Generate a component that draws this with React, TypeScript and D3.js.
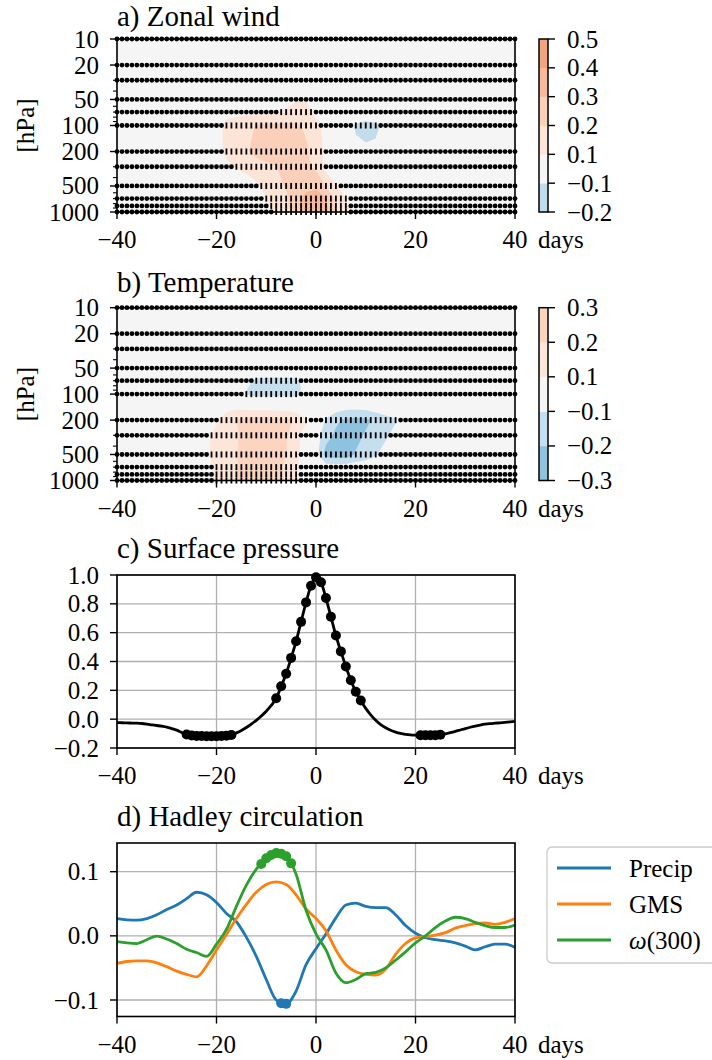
import React from 'react';
import * as d3 from 'd3';

const FONT = '"Liberation Serif", "DejaVu Serif", serif';
const X0 = 117;
const X1 = 515;

// ---------- shared axes ----------
const DAY_TICKS = [-40, -20, 0, 20, 40];
const LEVELS = [10, 20, 30, 50, 70, 100, 200, 300, 500, 700, 850, 1000];
const LOG_MAJOR = [10, 20, 50, 100, 200, 500, 1000];
const LOG_MINOR = [30, 40, 60, 70, 80, 90, 300, 400, 600, 700, 800, 900];
const GRID_DAYS = [-24, -22, -20, -18, -16, -14, -12, -10, -8, -6, -4, -2, 0, 2, 4, 6, 8, 10, 12, 14, 16, 18, 20];
const STIPPLE_DAYS = d3.range(-40, 41, 1);

// ---------- a) Zonal wind (rows = LEVELS, cols = GRID_DAYS) ----------
const WIND = [
  [0,0,0,0,0,0,0,0,0,0,0,0,0,0,0,0,0,0,0,0,0,0,0],
  [0,0,0,0,0,0,0,0,0,0,0,0,0,0,0,0,0,0,0,0,0,0,0],
  [0,0,0,0,0,0,0,0,0,0,0,0,0,0,0,0,0,0,0,0,0,0,0],
  [0,0,0,0,0,0,0,0,0.02,0.05,0.09,0.09,0.04,0,0,0,0,0,0,0,0,0,0],
  [0,0,0.03,0.06,0.07,0.08,0.08,0.08,0.085,0.12,0.15,0.14,0.07,0.02,0,0,0,0,0,0,0,0,0],
  [0,0.02,0.05,0.13,0.15,0.17,0.205,0.22,0.22,0.22,0.21,0.19,0.13,0.07,0.02,-0.02,-0.115,-0.15,-0.12,-0.07,-0.02,0,0],
  [0,0.02,0.05,0.13,0.16,0.19,0.23,0.25,0.26,0.25,0.23,0.21,0.17,0.07,0.02,0,-0.072,-0.073,-0.08,-0.02,0,0,0],
  [0,0,0.03,0.07,0.11,0.14,0.16,0.175,0.198,0.23,0.24,0.22,0.18,0.06,0.02,0,0,0,0,0,0,0,0],
  [0,0,0,0,0.01,0.03,0.08,0.13,0.17,0.21,0.24,0.27,0.28,0.195,0.105,0.03,0,0,0,0,0,0,0],
  [0,0,0,0,0,0.01,0.05,0.1,0.15,0.18,0.27,0.33,0.35,0.31,0.17,0.105,0.03,0,0,0,0,0,0],
  [0,0,0,0,0,0,0.04,0.08,0.13,0.18,0.26,0.35,0.37,0.32,0.19,0.11,0.04,0,0,0,0,0,0],
  [0,0,0,0,0,0,0.03,0.07,0.12,0.17,0.24,0.36,0.38,0.33,0.2,0.12,0.08,0.02,0,0,0,0,0],
];
const WIND_LEVELS = [-0.2, -0.1, 0.1, 0.2, 0.3, 0.4, 0.5];
const WIND_COLORS = ['#c3dcec', '#f5f5f5', '#fce4d7', '#fad0ba', '#f7b99b', '#f3a481'];

// ---------- b) Temperature ----------
const TEMP = [
  [0,0,0,0,0,0,0,0,0,0,0,0,0,0,0,0,0,0,0,0,0,0,0],
  [0,0,0,0,0,0,0,0,0,0,0,0,0,0,0,0,0,0,0,0,0,0,0],
  [0,0,0,0,0,0,0,0,0,0,0,0,0,0,0,0,0,0,0,0,0,0,0],
  [0,0,0,0,0,0,0,0,0,0,0,0,0,0,0,0,0,0,0,0,0,0,0],
  [0,0,0,0,-0.02,-0.07,-0.12,-0.13,-0.13,-0.13,-0.125,-0.06,-0.01,0,0,0,0,0,0,0,0,0,0],
  [0,0,0,-0.01,-0.05,-0.11,-0.13,-0.13,-0.13,-0.13,-0.13,-0.07,-0.02,0.05,0.09,0.09,0.09,0.09,0.09,0.09,0.05,0.02,0],
  [0,0.02,0.08,0.15,0.2,0.23,0.24,0.24,0.23,0.22,0.19,0.11,-0.02,-0.11,-0.18,-0.22,-0.23,-0.22,-0.18,-0.14,-0.11,-0.04,0],
  [0.01,0.07,0.14,0.18,0.19,0.23,0.25,0.25,0.24,0.21,0.14,0.05,-0.05,-0.16,-0.22,-0.24,-0.23,-0.19,-0.15,-0.12,-0.06,-0.01,0],
  [0.01,0.08,0.15,0.19,0.195,0.24,0.25,0.25,0.23,0.2,0.13,0.03,-0.06,-0.24,-0.25,-0.26,-0.19,-0.16,-0.11,-0.05,0,0,0],
  [0,0.06,0.13,0.18,0.195,0.24,0.25,0.24,0.22,0.19,0.12,0.03,0,-0.05,-0.05,-0.05,-0.04,-0.03,0,0,0,0,0],
  [0,0.06,0.13,0.18,0.195,0.24,0.25,0.24,0.22,0.19,0.12,0.03,0,-0.03,-0.03,-0.03,-0.03,0,0,0,0,0,0],
  [0,0.05,0.12,0.17,0.195,0.23,0.24,0.23,0.22,0.19,0.12,0.03,0,0,0,0,0,0,0,0,0,0,0],
];
const TEMP_LEVELS = [-0.3, -0.2, -0.1, 0.1, 0.2, 0.3];
const TEMP_COLORS = ['#8fc2de', '#c6dfef', '#f5f5f5', '#fce6da', '#fcd5c1'];

// ---------- c) Surface pressure (daily, -40..40) ----------
const SP_DAYS = d3.range(-40, 41, 1);
const SP_VALUES = [
  -0.024,-0.025,-0.026,-0.027,-0.028,-0.030,-0.034,-0.039,-0.044,-0.049,
  -0.055,-0.065,-0.076,-0.092,-0.106,-0.113,-0.116,-0.117,-0.118,-0.118,
  -0.118,-0.117,-0.115,-0.110,-0.095,-0.078,-0.058,-0.035,-0.008,0.022,
  0.055,0.095,0.145,0.228,0.315,0.425,0.540,0.675,0.810,0.925,
  0.985,
  0.950,0.840,0.710,0.580,0.470,0.365,0.270,0.190,0.130,0.075,
  0.030,-0.008,-0.038,-0.060,-0.077,-0.090,-0.099,-0.105,-0.109,-0.111,
  -0.112,-0.112,-0.112,-0.111,-0.108,-0.102,-0.094,-0.085,-0.075,-0.065,
  -0.056,-0.048,-0.041,-0.035,-0.031,-0.028,-0.025,-0.022,-0.019,-0.016,
];
const SP_SIG_DAYS = [-26,-25,-24,-23,-22,-21,-20,-19,-18,-17,
  -8,-7,-6,-5,-4,-3,-2,-1,0,1,2,3,4,5,6,7,8,9,
  21,22,23,24,25];
const C_TICKS = [-0.2, 0, 0.2, 0.4, 0.6, 0.8, 1.0];

// ---------- d) Hadley circulation (every 2 days, -40..40) ----------
const HC_DAYS = d3.range(-40, 41, 2);
const PRECIP = [0.027,0.025,0.0245,0.027,0.033,0.041,0.048,0.058,0.068,0.064,
  0.052,0.035,0.022,-0.002,-0.032,-0.068,-0.1,-0.106,-0.086,-0.045,
  -0.02,0.003,0.028,0.048,0.051,0.046,0.044,0.044,0.033,0.016,
  0.004,-0.003,-0.006,-0.008,-0.011,-0.016,-0.022,-0.017,-0.013,-0.013,-0.018];
const GMS = [-0.043,-0.040,-0.039,-0.039,-0.042,-0.048,-0.055,-0.060,-0.064,-0.047,
  -0.022,0.002,0.027,0.049,0.068,0.080,0.084,0.080,0.064,0.042,
  0.027,0.008,-0.022,-0.045,-0.056,-0.060,-0.061,-0.052,-0.029,-0.012,
  -0.003,-0.001,0.001,0.005,0.012,0.016,0.019,0.020,0.018,0.021,0.027];
const OMEGA = [-0.009,-0.011,-0.012,-0.006,-0.0005,-0.005,-0.012,-0.021,-0.026,-0.032,
  -0.013,0.010,0.046,0.079,0.104,0.121,0.129,0.124,0.096,0.040,
  0.003,-0.022,-0.058,-0.073,-0.068,-0.059,-0.057,-0.050,-0.038,-0.025,
  -0.011,0.0,0.013,0.023,0.029,0.027,0.021,0.016,0.013,0.013,0.017];
const PRECIP_SIG_DAYS = [-7, -6];
const PRECIP_SIG_VALS = [-0.105, -0.106];
const OMEGA_SIG_DAYS = [-11, -10, -9, -8, -7, -6, -5];
const OMEGA_SIG_VALS = [0.112, 0.121, 0.126, 0.129, 0.128, 0.124, 0.113];
const D_TICKS = [-0.1, 0, 0.1];
const SERIES_NAMES = ['Precip', 'GMS', 'ω(300)'];
const SERIES_COLORS = ['#1f77b4', '#ff7f0e', '#2ca02c'];

const MINUS = '\u2212';
const fmt1 = (v: number) => (v < -1e-9 ? MINUS : '') + Math.abs(v).toFixed(1);
const fmtInt = (v: number) => (v < 0 ? MINUS : '') + Math.abs(v);

const TITLE_SIZE = 29;
const TICK_SIZE = 25;

function XAxis({ x, y }: { x: d3.ScaleLinear<number, number>; y: number }) {
  return (
    <g>
      {DAY_TICKS.map((d) => (
        <g key={d}>
          <line x1={x(d)} x2={x(d)} y1={y} y2={y + 7} stroke="#000" strokeWidth={1.4} />
          <text x={x(d)} y={y + 36} textAnchor="middle" fontSize={TICK_SIZE}>{fmtInt(d)}</text>
        </g>
      ))}
      <text x={538} y={y + 36} fontSize={TICK_SIZE}>days</text>
    </g>
  );
}

function insideGeom(geom: any, pt: [number, number]) {
  return geom.coordinates.some(
    (poly: [number, number][][]) =>
      d3.polygonContains(poly[0], pt) && !poly.slice(1).some((h) => d3.polygonContains(h, pt))
  );
}

function ContourPanel(props: {
  top: number; bottom: number; titleY: number; title: string;
  field: number[][]; levels: number[]; colors: string[];
}) {
  const { top, bottom, titleY, title, field, levels, colors } = props;
  const x = d3.scaleLinear([-40, 40], [X0, X1]);
  const y = d3.scaleLog([10, 1000], [top, bottom]);
  const nx = GRID_DAYS.length;
  const ny = LEVELS.length;
  const step = GRID_DAYS[1] - GRID_DAYS[0];
  const values = field.flat();
  const negValues = values.map((v) => -v);
  const gen = d3.contours().size([nx, ny]);
  const px = (c: number) => x(GRID_DAYS[0] + step * (c - 0.5));
  const py = (c: number) => {
    const t = Math.max(0, Math.min(ny - 1, c - 0.5));
    const i = Math.min(ny - 2, Math.floor(t));
    const f = t - i;
    return y(LEVELS[i]) * (1 - f) + y(LEVELS[i + 1]) * f;
  };
  const toPath = (geom: any) =>
    geom.coordinates
      .map((poly: number[][][]) =>
        poly.map((ring) => 'M' + ring.map(([cx, cy]) => `${px(cx).toFixed(2)},${py(cy).toFixed(2)}`).join('L') + 'Z').join('')
      )
      .join('');
  const neutral = levels.findIndex((l, i) => l < 0 && levels[i + 1] > 0);
  const lo = levels[neutral];
  const hi = levels[neutral + 1];
  const bands: { d: string; fill: string }[] = [];
  for (let i = neutral - 1; i >= 0; i--) {
    bands.push({ d: toPath(gen.contour(negValues, -levels[i + 1])), fill: colors[i] });
  }
  for (let i = neutral + 1; i < colors.length; i++) {
    bands.push({ d: toPath(gen.contour(values, levels[i])), fill: colors[i] });
  }
  const sigPos = gen.contour(values, hi);
  const sigNeg = gen.contour(negValues, -lo);
  const marks: { d: number; lev: number; sig: boolean }[] = [];
  LEVELS.forEach((lev, k) => {
    STIPPLE_DAYS.forEach((d) => {
      const pt: [number, number] = [(d - GRID_DAYS[0]) / step + 0.5, k + 0.5];
      marks.push({ d, lev, sig: insideGeom(sigPos, pt) || insideGeom(sigNeg, pt) });
    });
  });

  const cbX = 539;
  const cbW = 9;
  const h = (bottom - top) / (levels.length - 1);

  return (
    <g>
      <text x={X0} y={titleY} fontSize={TITLE_SIZE}>{title}</text>
      <rect x={X0} y={top} width={X1 - X0} height={bottom - top} fill={colors[neutral]} />
      {bands.map((b, i) => (
        <path key={i} d={b.d} fill={b.fill} fillRule="evenodd" stroke="none" />
      ))}
      {marks.map((m, i) =>
        m.sig ? (
          <rect key={i} x={x(m.d) - 0.9} y={y(m.lev) - 3} width={1.8} height={6} fill="#000" />
        ) : (
          <circle key={i} cx={x(m.d)} cy={y(m.lev)} r={2.4} fill="#000" />
        )
      )}
      <rect x={X0} y={top} width={X1 - X0} height={bottom - top} fill="none" stroke="#000" strokeWidth={1.6} />
      {LOG_MAJOR.map((p) => (
        <g key={p}>
          <line x1={X0 - 7} x2={X0} y1={y(p)} y2={y(p)} stroke="#000" strokeWidth={1.4} />
          <text x={99} y={y(p)} dy="0.34em" textAnchor="end" fontSize={TICK_SIZE}>{p}</text>
        </g>
      ))}
      {LOG_MINOR.map((p) => (
        <line key={p} x1={X0 - 4} x2={X0} y1={y(p)} y2={y(p)} stroke="#000" strokeWidth={1.1} />
      ))}
      <text
        transform={`translate(25,${(y(100)).toFixed(1)}) rotate(-90)`}
        textAnchor="middle"
        dominantBaseline="central"
        fontSize={TICK_SIZE}
      >
        [hPa]
      </text>
      <XAxis x={x} y={bottom} />
      {colors.map((c, i) => (
        <rect key={i} x={cbX} y={bottom - (i + 1) * h} width={cbW} height={h + 0.3} fill={c} />
      ))}
      <rect x={cbX} y={top} width={cbW} height={bottom - top} fill="none" stroke="#000" strokeWidth={1.5} />
      {levels.map((l, i) => (
        <g key={i}>
          <line x1={cbX + cbW} x2={cbX + cbW + 7} y1={bottom - i * h} y2={bottom - i * h} stroke="#000" strokeWidth={1.4} />
          <text x={567} y={bottom - i * h} dy="0.34em" fontSize={TICK_SIZE}>{fmt1(l)}</text>
        </g>
      ))}
    </g>
  );
}

function PressurePanel() {
  const top = 575;
  const bottom = 748;
  const x = d3.scaleLinear([-40, 40], [X0, X1]);
  const y = d3.scaleLinear([-0.2, 1.0], [bottom, top]);
  const line = d3
    .line<number>()
    .x((_, i) => x(SP_DAYS[i]))
    .y((v) => y(v))
    .curve(d3.curveMonotoneX);
  return (
    <g>
      <text x={X0} y={558} fontSize={TITLE_SIZE}>c) Surface pressure</text>
      {DAY_TICKS.map((d) => (
        <line key={'gx' + d} x1={x(d)} x2={x(d)} y1={top} y2={bottom} stroke="#b0b0b0" strokeWidth={1.3} />
      ))}
      {C_TICKS.map((v) => (
        <line key={'gy' + v} x1={X0} x2={X1} y1={y(v)} y2={y(v)} stroke="#b0b0b0" strokeWidth={1.3} />
      ))}
      <path d={line(SP_VALUES) || ''} fill="none" stroke="#000" strokeWidth={2.8} />
      {SP_SIG_DAYS.map((d) => (
        <circle key={d} cx={x(d)} cy={y(SP_VALUES[SP_DAYS.indexOf(d)])} r={5} fill="#000" />
      ))}
      <rect x={X0} y={top} width={X1 - X0} height={bottom - top} fill="none" stroke="#000" strokeWidth={1.6} />
      {C_TICKS.map((v) => (
        <g key={'t' + v}>
          <line x1={X0 - 7} x2={X0} y1={y(v)} y2={y(v)} stroke="#000" strokeWidth={1.4} />
          <text x={99} y={y(v)} dy="0.34em" textAnchor="end" fontSize={TICK_SIZE}>{fmt1(v)}</text>
        </g>
      ))}
      <XAxis x={x} y={bottom} />
    </g>
  );
}

function HadleyPanel() {
  const top = 843;
  const bottom = 1016.5;
  const x = d3.scaleLinear([-40, 40], [X0, X1]);
  const y = d3.scaleLinear([-0.1, 0.1], [1000, 871.7]);
  const line = d3
    .line<number>()
    .x((_, i) => x(HC_DAYS[i]))
    .y((v) => y(v))
    .curve(d3.curveMonotoneX);
  const series = [PRECIP, GMS, OMEGA];
  const legendY = [868, 904, 940];
  return (
    <g>
      <text x={X0} y={826} fontSize={TITLE_SIZE}>d) Hadley circulation</text>
      {DAY_TICKS.map((d) => (
        <line key={'gx' + d} x1={x(d)} x2={x(d)} y1={top} y2={bottom} stroke="#b0b0b0" strokeWidth={1.3} />
      ))}
      {D_TICKS.map((v) => (
        <line key={'gy' + v} x1={X0} x2={X1} y1={y(v)} y2={y(v)} stroke="#b0b0b0" strokeWidth={1.3} />
      ))}
      {series.map((s, i) => (
        <path key={i} d={line(s) || ''} fill="none" stroke={SERIES_COLORS[i]} strokeWidth={2.8} />
      ))}
      {PRECIP_SIG_DAYS.map((d, i) => (
        <circle key={'p' + d} cx={x(d)} cy={y(PRECIP_SIG_VALS[i])} r={5} fill={SERIES_COLORS[0]} />
      ))}
      {OMEGA_SIG_DAYS.map((d, i) => (
        <circle key={'o' + d} cx={x(d)} cy={y(OMEGA_SIG_VALS[i])} r={5} fill={SERIES_COLORS[2]} />
      ))}
      <rect x={X0} y={top} width={X1 - X0} height={bottom - top} fill="none" stroke="#000" strokeWidth={1.6} />
      {D_TICKS.map((v) => (
        <g key={'t' + v}>
          <line x1={X0 - 7} x2={X0} y1={y(v)} y2={y(v)} stroke="#000" strokeWidth={1.4} />
          <text x={99} y={y(v)} dy="0.34em" textAnchor="end" fontSize={TICK_SIZE}>{fmt1(v)}</text>
        </g>
      ))}
      <XAxis x={x} y={bottom} />
      <rect x={547} y={847} width={180} height={116} rx={5} fill="#fff" fillOpacity={0.8} stroke="#cccccc" strokeWidth={1.3} />
      {SERIES_NAMES.map((name, i) => (
        <g key={name}>
          <line x1={557} x2={611} y1={legendY[i]} y2={legendY[i]} stroke={SERIES_COLORS[i]} strokeWidth={2.8} />
          <text x={629} y={legendY[i]} dy="0.34em" fontSize={TICK_SIZE}>
            {name.startsWith('ω') ? (
              <>
                <tspan fontStyle="italic">ω</tspan>
                {name.slice(1)}
              </>
            ) : (
              name
            )}
          </text>
        </g>
      ))}
    </g>
  );
}

export default function App() {
  return (
    <svg
      width={712}
      height={1060}
      style={{ position: 'absolute', left: 0, top: 0, background: '#fff' }}
      fontFamily={FONT}
    >
      <ContourPanel top={39} bottom={212} titleY={26} title="a) Zonal wind" field={WIND} levels={WIND_LEVELS} colors={WIND_COLORS} />
      <ContourPanel top={307.7} bottom={480.5} titleY={292} title="b) Temperature" field={TEMP} levels={TEMP_LEVELS} colors={TEMP_COLORS} />
      <PressurePanel />
      <HadleyPanel />
    </svg>
  );
}
